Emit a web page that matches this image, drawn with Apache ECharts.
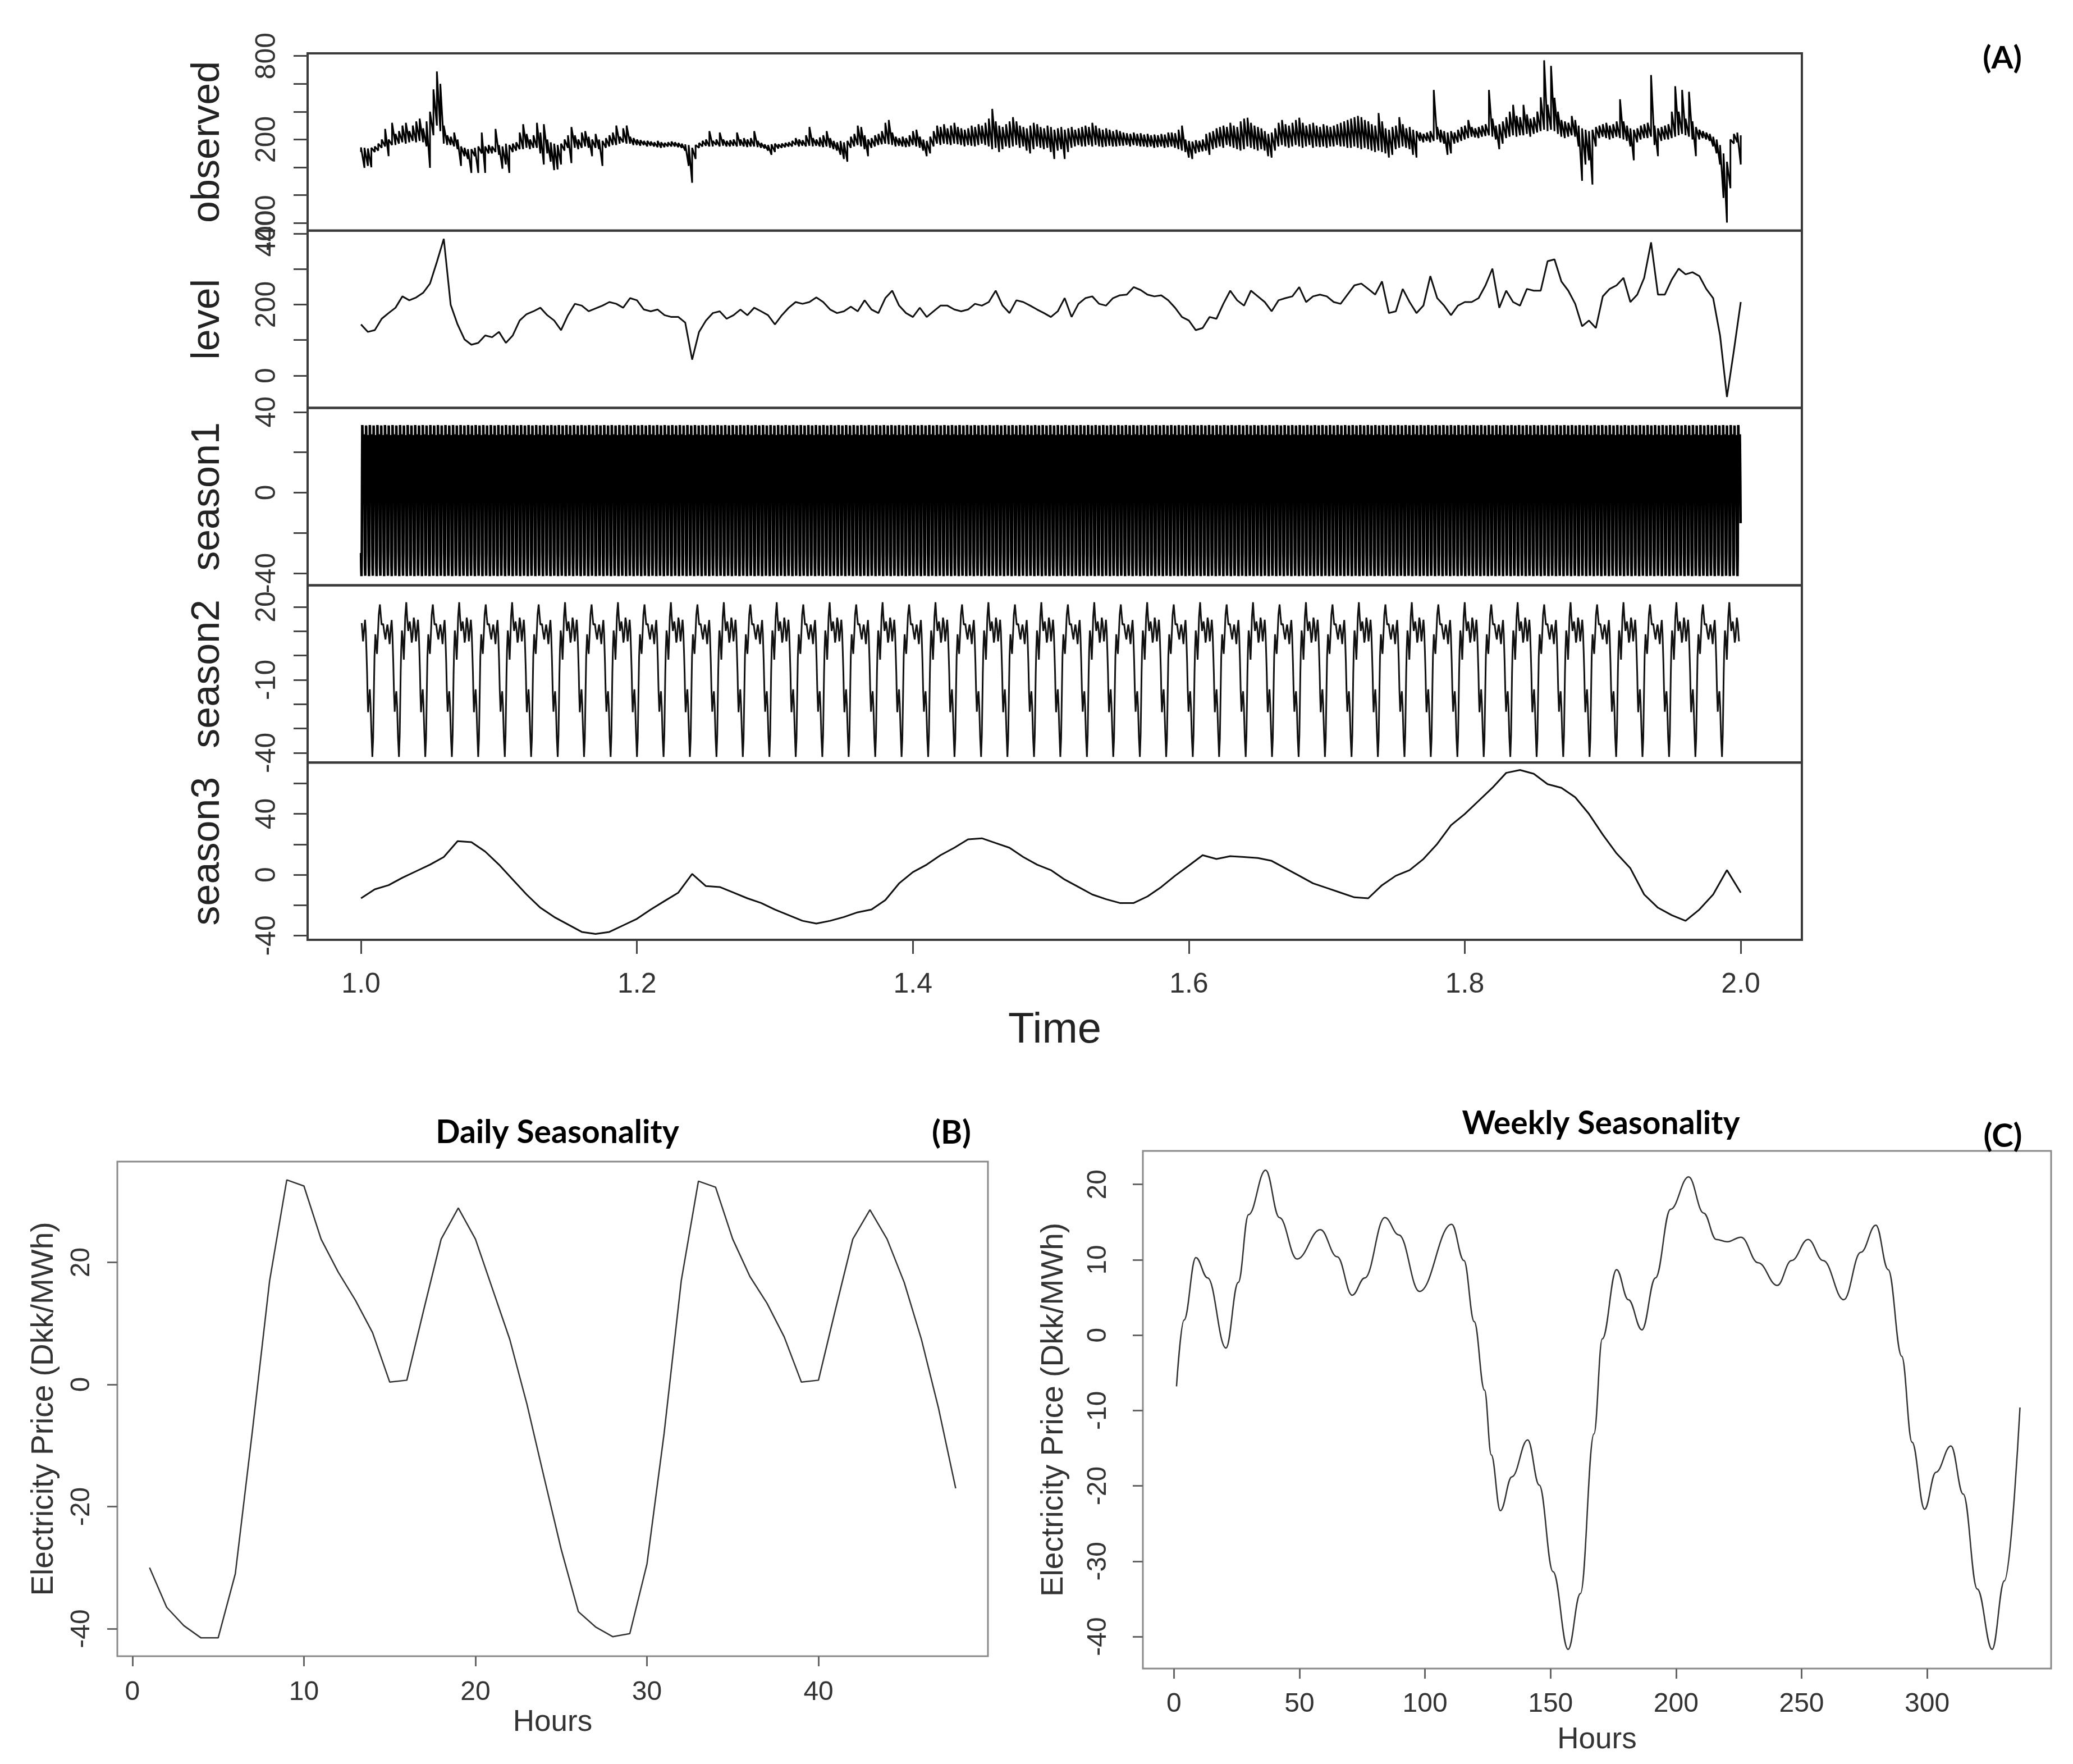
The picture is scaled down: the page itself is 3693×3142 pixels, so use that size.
<!DOCTYPE html>
<html><head><meta charset="utf-8">
<script src="https://cdn.jsdelivr.net/npm/echarts/dist/echarts.min.js"></script>
<style>html,body{margin:0;padding:0;background:#fff}#c{width:3693px;height:3142px}</style>
</head><body><div id="c"></div>
<script>
// ---------------- DATA ----------------
const timeLabels = [1.0, 1.2, 1.4, 1.6, 1.8, 2.0];
const obsStep = 0.0025;      // observed: upper / lower edge of the noisy band every 0.0025
const obsHigh = [
143,140,135,140,150,170,200,276,200,320, 240,260,300,320,260,300,330,350,280,330,
400,560,689,600,300,230,220,250,200,150, 140,130,130,140,150,250,150,160,150,276,
160,150,170,160,170,180,250,310,240,200, 230,320,250,310,200,180,170,160,170,200,
230,290,230,200,250,260,220,200,240,200, 190,210,230,250,300,220,280,300,220,210,
200,195,190,190,185,180,190,180,175,180, 185,180,175,170,165,160,140,160,175,190,
200,260,190,200,250,200,190,195,200,250, 200,210,200,210,260,190,175,165,160,165,
170,165,170,175,180,190,210,200,195,230, 290,210,200,215,230,260,210,190,180,190,
180,190,220,240,300,290,230,200,210,230, 240,260,320,340,250,220,210,220,210,230,
260,270,220,200,190,220,260,300,290,310, 280,300,320,290,280,270,280,300,290,310,
300,320,350,420,330,300,290,310,330,360, 330,300,290,280,300,320,310,290,280,300,
290,270,280,290,270,280,290,270,280,290, 300,290,320,300,280,270,280,270,260,270,
260,250,245,240,250,240,245,235,240,230, 235,230,240,235,250,250,245,270,300,200,
190,185,195,190,200,240,250,260,280,290, 300,290,320,300,290,330,350,356,320,300,
290,280,260,240,250,280,320,340,310,300, 320,340,356,320,300,310,320,300,290,310,
300,290,300,310,320,330,340,350,360,370, 360,340,330,310,300,390,330,280,270,290,
300,360,310,280,290,270,260,250,240,250, 260,556,290,270,260,250,260,250,270,290,
300,340,290,280,290,300,310,556,350,300, 310,330,360,400,449,370,360,449,380,350,
360,400,503,769,450,729,500,400,340,330, 320,369,340,300,280,270,260,270,290,300,
310,320,300,310,330,489,330,300,280,270, 280,300,310,320,663,300,280,290,300,310,
400,583,400,556,350,543,330,290,270,260, 250,240,220,200,160,100,40,200,240,250,
230];
const obsLow = [
110,-4,10,0,110,120,140,150,80,160, 160,170,180,170,180,190,180,190,180,150,
-4,230,300,260,170,160,160,150,130,10, 80,60,-40,80,-40,100,-40,100,100,110,
90,-10,20,-40,110,120,130,130,140,130, 140,140,100,20,100,40,-20,-15,20,120,
140,30,140,130,140,150,140,80,140,130, 10,140,150,160,160,170,180,170,170,160,
160,155,160,150,155,150,145,140,145,150, 150,150,145,140,120,10,-111,60,140,150,
155,150,150,160,150,155,150,150,155,150, 155,150,145,150,150,145,140,135,120,90,
110,135,140,145,150,150,160,150,155,150, 155,150,155,150,145,150,140,130,120,90,
60,40,140,150,160,150,130,80,140,150, 160,165,170,165,160,150,155,150,145,150,
160,150,140,120,80,100,150,170,160,170, 165,160,170,165,160,150,160,155,150,160,
170,160,150,130,140,110,130,150,140,150, 160,140,150,120,100,130,150,140,130,140,
110,60,120,130,60,110,140,150,160,150, 150,160,150,160,150,145,150,155,150,150,
155,155,160,150,160,155,150,150,145,150, 140,145,150,140,145,150,140,130,120,110,
70,60,100,110,115,120,90,130,140,150, 140,160,150,140,130,120,130,150,140,130,
120,130,120,80,70,120,150,160,150,140, 150,160,150,140,150,160,140,150,145,150,
140,150,150,160,150,150,140,140,150,140, 130,140,130,120,110,120,110,100,70,90,
130,140,150,140,130,90,70,190,180,190, 180,190,200,180,170,90,100,170,180,190,
200,210,220,215,210,220,225,230,220,200, 130,170,210,220,230,220,230,230,240,220,
240,250,260,270,260,270,260,240,220,210, 220,230,220,150,-97,20,50,-124,150,210,
220,210,200,210,220,210,200,190,150,50, 180,200,210,210,220,160,80,190,200,200,
210,220,230,240,230,220,200,80,200,210, 200,190,150,100,20,-220,-397,-150,170,180,
20];
const levelStep = 0.005;
const levelValues = [
144,123,128,160,176,191,223,212,220,233, 259,320,385,199,144,102,87,92,113,108,
123,92,113,155,173,181,191,170,155,128, 170,202,197,181,189,197,207,202,191,218,
212,186,181,186,170,165,165,149,45,123, 155,176,181,160,170,186,170,191,181,170,
144,170,191,207,202,207,220,207,186,176, 181,194,181,212,186,176,218,239,197,176,
165,191,165,181,197,197,186,181,186,202, 197,207,239,197,176,212,207,197,186,176,
165,181,218,165,202,218,223,202,197,218, 226,228,249,241,228,223,226,212,191,165,
155,128,134,165,160,202,239,212,197,239, 223,207,181,212,218,223,249,207,223,228,
223,207,202,228,254,259,244,228,265,176, 181,244,207,176,197,280,218,197,170,197,
207,207,218,254,301,191,239,207,197,244, 239,239,322,327,265,239,202,139,155,134,
223,244,254,275,207,228,275,375,228,228, 270,301,285,291,280,244,218,113,-60,70,
207];
const season3Step = 0.01;
const season3Values = [
-15.5,-9.6,-6.9,-2.0,2.3,6.6,11.6,22.0,21.4,15.2, 6.6,-3.2,-13.0,-21.7,-27.8,-32.7,-37.6,-38.9,-37.6,-33.3,
-29.0,-22.9,-17.3,-11.8,0.5,-7.5,-8.1,-11.8,-15.5,-18.6, -22.9,-26.6,-30.3,-32.1,-30.3,-27.8,-24.7,-22.9,-16.7,-5.7,
1.7,6.6,12.8,17.7,23.2,23.9,20.8,17.7,11.6,6.6, 3.0,-3.2,-8.1,-13.0,-16.1,-18.6,-18.6,-14.3,-8.1,-0.7,
6.0,12.8,10.3,12.2,11.6,11.0,9.1,4.2,-0.7,-5.7, -8.7,-11.8,-14.9,-15.5,-6.9,-0.7,3.0,10.3,20.2,32.5,
39.9,48.5,57.1,66.9,68.8,66.3,59.5,57.1,50.9,39.9, 26.3,14.0,4.2,-13.0,-21.7,-26.6,-30.3,-22.9,-13.0,3.0,
-11.8];
// Panel B: daily seasonality, hours 1..48
const dailySeason = [
-30,-36.5,-39.5,-41.5,-41.5,-31,-7.5,17,33.5,32.5,23.8,18.4,13.8,8.5,0.4,0.7,12.4,23.8,28.9,23.8,15.6,7.4,-3.2,-15.2,
-27,-37.2,-39.7,-41.3,-40.8,-29.4,-8,17,33.3,32.3,23.8,17.7,13.3,7.8,0.4,0.7,12.4,23.8,28.6,23.8,16.7,7.4,-3.9,-17];
// Panel C: weekly seasonality, (hour, value) read at turning points
const weeklyHours = [1,4,8.7,13.4,20.7,25.6,29.7,36.5,42,49,58.3,65,71,76,84,89.6,97.8,110.6,115.5,119.6,123.7,126.4,130,134.6,140.9,145.5,151,157,161.9,167.3,
170.6,176.3,181,186.4,191.8,197.8,205,211,216,220.4,225.9,232.7,240.3,246,252.6,258.6,266.8,273.6,279.6,284.5,289.9,294,299,303.5,309.5,314.4,320,325.9,330.8,337];
const weeklySeason = [-6.8,2,10.3,7.6,-1.7,7,16,21.9,15.6,10.1,14,10.4,5.3,7.6,15.6,13.3,5.8,14.7,9.9,1.8,-7.3,-15.9,-23.3,-18.8,-13.9,-19.9,-31.4,-41.7,-34.3,-13.1,
-0.5,8.7,4.7,0.7,7.6,16.7,21,16.2,12.7,12.4,13,9.6,6.6,9.9,12.7,9.9,4.7,11,14.6,8.7,-2.8,-14.2,-23.1,-18.2,-14.7,-21.1,-33.7,-41.7,-32.6,-9.6];
const hoursTicksB = [0,10,20,30,40];
const hoursTicksC = [0,50,100,150,200,250,300];
const HOURS_PER_YEAR = 8760;
const WEEK_PHASE = 85; // profile hour of panel C that falls at Time = 1.0

// ---------------- SERIES DATA ----------------
const observedData = [];
obsHigh.forEach((hi, i) => {
  const t = 1 + i * obsStep;
  observedData.push([t, obsLow[i]]);
  observedData.push([t, hi]);
});
const levelData = levelValues.map((v, i) => [1 + i * levelStep, v]);
const season3Data = season3Values.map((v, i) => [1 + i * season3Step, v]);
// the daily / weekly components are the profiles of panels B and C repeated through the year
const season1Data = [];
for (let h = 0; h < HOURS_PER_YEAR; h++) season1Data.push([1 + h / HOURS_PER_YEAR, dailySeason[h % dailySeason.length]]);
const season2Data = [];
for (let n = 0; n < 28; n++) {
  for (let j = 0; j < weeklyHours.length - 1; j++) {
    const h = weeklyHours[j] + 336 * n - WEEK_PHASE;
    if (h >= 0 && h <= HOURS_PER_YEAR) season2Data.push([1 + h / HOURS_PER_YEAR, weeklySeason[j]]);
  }
}
const dailyData = dailySeason.map((v, i) => [i + 1, v]);
const weeklyData = weeklyHours.map((h, i) => [h, weeklySeason[i]]);

// ---------------- LAYOUT ----------------
const FONT = '"Liberation Sans", Arial, sans-serif';
const TXT = '#333';
const A_LEFT = 548, A_W = 2662, A_TOP = 95, A_H = 315.8;
const grids = [];
for (let i = 0; i < 5; i++) grids.push({left: A_LEFT, top: A_TOP + i * A_H, width: A_W, height: A_H, show: true, borderColor: '#3a3a3a', borderWidth: 4});
grids.push({left: 209, top: 2069, width: 1551, height: 881, show: true, borderColor: '#8a8a8a', borderWidth: 3});
grids.push({left: 2036, top: 2050, width: 1618, height: 922, show: true, borderColor: '#8a8a8a', borderWidth: 3});

const noLine = {show: false, onZero: false};
function yA(gi, name, min, max, ticks, labels) {
  return {type: 'value', gridIndex: gi, min, max, name, nameLocation: 'middle', nameGap: 142,
    nameTextStyle: {fontSize: 70, fontFamily: FONT, color: '#222'},
    axisLine: noLine,
    axisTick: {show: true, inside: false, length: 25, customValues: ticks, lineStyle: {color: '#444', width: 3}},
    axisLabel: {show: true, rotate: 90, margin: 47, fontSize: 50, fontFamily: FONT, color: TXT, customValues: labels, formatter: v => String(Math.round(v))},
    splitLine: {show: false}};
}
const xAcommon = {type: 'value', min: 0.9613, max: 2.0443, splitLine: {show: false}, axisLine: noLine};
const xAxes = [];
for (let i = 0; i < 4; i++) xAxes.push(Object.assign({}, xAcommon, {gridIndex: i, show: false}));
xAxes.push(Object.assign({}, xAcommon, {gridIndex: 4, name: 'Time', nameLocation: 'middle', nameGap: 124,
  nameTextStyle: {fontSize: 76, fontFamily: FONT, color: '#222'},
  axisTick: {show: true, length: 25, customValues: timeLabels, lineStyle: {color: '#444', width: 3}},
  axisLabel: {margin: 55, fontSize: 50, fontFamily: FONT, color: TXT, customValues: timeLabels, formatter: v => v.toFixed(1)}}));
xAxes.push({type: 'value', gridIndex: 5, min: -0.88, max: 49.88, name: 'Hours', nameLocation: 'middle', nameGap: 92,
  nameTextStyle: {fontSize: 53, fontFamily: FONT, color: TXT}, axisLine: noLine, splitLine: {show: false},
  axisTick: {length: 18, customValues: hoursTicksB, lineStyle: {color: '#666', width: 3}},
  axisLabel: {margin: 41, fontSize: 48, fontFamily: FONT, color: TXT, customValues: hoursTicksB}});
xAxes.push({type: 'value', gridIndex: 6, min: -12.4, max: 349.4, name: 'Hours', nameLocation: 'middle', nameGap: 101,
  nameTextStyle: {fontSize: 53, fontFamily: FONT, color: TXT}, axisLine: noLine, splitLine: {show: false},
  axisTick: {length: 18, customValues: hoursTicksC, lineStyle: {color: '#666', width: 3}},
  axisLabel: {margin: 40, fontSize: 48, fontFamily: FONT, color: TXT, customValues: hoursTicksC}});

const yAxes = [
  yA(0, 'observed', -455, 819, [-400,-200,0,200,400,600,800], [-400,200,800]),
  yA(1, 'level', -91, 408, [0,100,200,300,400], [0,200,400]),
  yA(2, 'season1', -46, 42, [-40,-20,0,20,40], [-40,0,40]),
  yA(3, 'season2', -44, 28.9, [-40,-30,-20,-10,0,10,20], [-40,-10,20]),
  yA(4, 'season3', -42.8, 73.7, [-40,-20,0,20,40,60], [-40,0,40]),
  {type: 'value', gridIndex: 5, min: -44.5, max: 36.5, name: 'Electricity Price (Dkk/MWh)', nameLocation: 'middle', nameGap: 103,
    nameTextStyle: {fontSize: 55, fontFamily: FONT, color: TXT}, axisLine: noLine, splitLine: {show: false},
    axisTick: {length: 18, customValues: [-40,-20,0,20], lineStyle: {color: '#666', width: 3}},
    axisLabel: {rotate: 90, margin: 39, fontSize: 48, fontFamily: FONT, color: TXT, customValues: [-40,-20,0,20]}},
  {type: 'value', gridIndex: 6, min: -44.25, max: 24.45, name: 'Electricity Price (Dkk/MWh)', nameLocation: 'middle', nameGap: 131,
    nameTextStyle: {fontSize: 55, fontFamily: FONT, color: TXT}, axisLine: noLine, splitLine: {show: false},
    axisTick: {length: 18, customValues: [-40,-30,-20,-10,0,10,20], lineStyle: {color: '#666', width: 3}},
    axisLabel: {rotate: 90, margin: 55, fontSize: 48, fontFamily: FONT, color: TXT, customValues: [-40,-30,-20,-10,0,10,20]}}
];

function line(idx, data, width, color, extra) {
  return Object.assign({type: 'line', xAxisIndex: idx, yAxisIndex: idx, data, showSymbol: false, symbol: 'none',
    lineStyle: {color, width}, silent: true, animation: false, clip: true}, extra || {});
}

const chart = echarts.init(document.getElementById('c'), null, {renderer: 'canvas'});
chart.setOption({
  animation: false,
  backgroundColor: '#fff',
  grid: grids,
  xAxis: xAxes,
  yAxis: yAxes,
  series: [
    line(0, observedData, 3, '#000'),
    line(1, levelData, 3, '#111'),
    line(2, season1Data, 4.5, '#000'),
    line(3, season2Data, 3, '#111'),
    line(4, season3Data, 3, '#111'),
    line(5, dailyData, 2.5, '#333'),
    line(6, weeklyData, 2.5, '#333', {smooth: 0.4, smoothMonotone: 'x'})
  ],
  graphic: [
    {type: 'text', x: 3567, y: 104, style: {text: '(A)', fontSize: 56, fontWeight: 'bold', fontFamily: 'Lato', fill: '#000', align: 'center', verticalAlign: 'middle'}},
    {type: 'text', x: 993, y: 2018, style: {text: 'Daily Seasonality', fontSize: 57, fontWeight: 'bold', fontFamily: 'Lato', fill: '#000', align: 'center', verticalAlign: 'middle'}},
    {type: 'text', x: 1695, y: 2018, style: {text: '(B)', fontSize: 58, fontWeight: 'bold', fontFamily: 'Lato', fill: '#000', align: 'center', verticalAlign: 'middle'}},
    {type: 'text', x: 2852, y: 2002, style: {text: 'Weekly Seasonality', fontSize: 57, fontWeight: 'bold', fontFamily: 'Lato', fill: '#000', align: 'center', verticalAlign: 'middle'}},
    {type: 'text', x: 3568, y: 2024, style: {text: '(C)', fontSize: 58, fontWeight: 'bold', fontFamily: 'Lato', fill: '#000', align: 'center', verticalAlign: 'middle'}}
  ]
});
</script></body></html>
